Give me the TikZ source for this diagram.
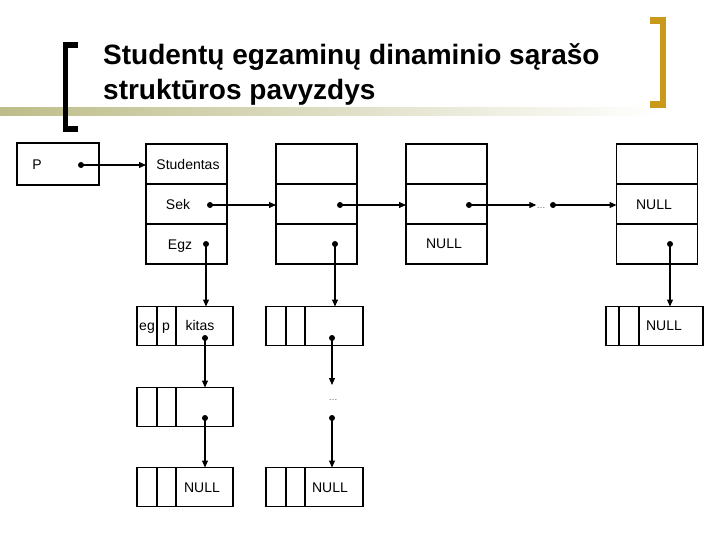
\documentclass[tikz,border=0pt]{standalone}
\usepackage{fontspec}
\setmainfont{Liberation Sans}
\usetikzlibrary{arrows.meta,positioning}
\definecolor{olivebar}{HTML}{BDBD8A}
\definecolor{gold}{HTML}{C99A1A}
\newcommand{\lblfont}{\fontsize{14}{16}\selectfont}
\tikzset{
  cell/.style={draw, line width=1.8pt, minimum width=81pt, minimum height=40pt,
               inner sep=0pt, outer sep=0pt},
  part/.style={draw, line width=1.8pt, minimum height=39pt, inner sep=0pt, outer sep=0pt},
  dot/.style={circle, fill, inner sep=0pt, minimum size=6pt},
  lbl/.style={font=\lblfont, inner sep=0pt, anchor=base},
  gaplbl/.style={font=\fontsize{9}{9}\selectfont, inner sep=0pt, text=black!70},
  ar/.style={-{Triangle[length=7pt,width=6pt]}, line width=1.1pt},
  ttl/.style={font=\fontsize{28}{34}\selectfont\bfseries, anchor=base west, inner sep=0pt}
}
\begin{document}
\begin{tikzpicture}[x=1pt,y=-1pt]
  \useasboundingbox (0,0) rectangle (720,540);

  % title bar and brackets
  \shade[left color=olivebar, right color=white] (0,108) rectangle (660,116);
  \fill (63,42) rectangle (68,132);
  \fill (63,42) rectangle (78,48);
  \fill (63,126) rectangle (78,132);
  \fill[gold] (660,17) rectangle (666,108);
  \fill[gold] (650,17) rectangle (666,24);
  \fill[gold] (650,101) rectangle (666,108);
  \node[ttl] (title1) at (103,65) {Studentų egzaminų dinaminio sąrašo};
  \node[ttl] (title2) at (103,100) {struktūros pavyzdys};

  % head pointer
  \node[cell, minimum width=82pt, minimum height=42pt] (p) at (58,164) {};
  \node[lbl] (plbl) at (37,170) {P};
  \node[dot] (pd) at (81,165) {};

  % student records
  \foreach \i/\x in {1/186.5, 2/316.5, 3/446.5, 4/657} {
    \node[cell] (n\i-top) at (\x,164) {};
    \node[cell] (n\i-mid) at (\x,204) {};
    \node[cell] (n\i-bot) at (\x,244) {};
  }
  \node[lbl] (stud) at (188,170) {Studentas};
  \node[lbl] (sek) at (178,210) {Sek};
  \node[lbl] (egz) at (180,249) {Egz};
  \node[dot] (d1b) at (210,205) {};
  \node[dot] (d1c) at (206,244) {};
  \node[dot] (d2b) at (340,205) {};
  \node[dot] (d2c) at (335,244) {};
  \node[dot] (d3b) at (469,205) {};
  \node[lbl] (null3) at (444,248) {NULL};
  \node[gaplbl] (gap) at (541,208) {\ldots};
  \node[dot] (gd) at (553,205) {};
  \node[lbl] (null4) at (654,210) {NULL};
  \node[dot] (d4c) at (670,244) {};

  \draw[ar] (pd.center) -- (pd.center -| n1-top.west);
  \draw[ar] (d1b.center) -- (d1b.center -| n2-mid.west);
  \draw[ar] (d2b.center) -- (d2b.center -| n3-mid.west);
  \draw[ar] (d3b.center) -- (d3b.center -| gap.west);
  \draw[ar] (gd.center) -- (gd.center -| n4-mid.west);

  % exam lists
  \foreach \n/\x/\y/\wa/\wb/\wc in {k1/137/326/20pt/19pt/57pt, k2/137/407/20pt/19pt/57pt,
      k3/137/487/20pt/19pt/57pt, m1/266/326/20pt/19pt/58pt, m3/266/487/20pt/19pt/58pt,
      q1/606/326/13pt/20pt/64pt} {
    \node[part, minimum width=\wa, anchor=west] (\n-a) at (\x,\y) {};
    \node[part, minimum width=\wb, right=0pt of \n-a] (\n-b) {};
    \node[part, minimum width=\wc, right=0pt of \n-b] (\n-c) {};
  }
  \node[lbl] (eg) at (147,330) {eg};
  \node[lbl] (pp) at (166,330) {p};
  \node[lbl] (kitas) at (200,330) {kitas};
  \node[lbl] (nullk) at (202,492) {NULL};
  \node[lbl] (nullm) at (330,492) {NULL};
  \node[lbl] (nullq) at (664,330) {NULL};
  \node[dot] (dk1) at (205,338) {};
  \node[dot] (dk2) at (205,418) {};
  \node[dot] (dm1) at (332,338) {};
  \node[gaplbl] (vgap) at (333,400) {\ldots};
  \coordinate (vend) at (332,385);
  \node[dot] (dm2) at (332,418) {};

  \draw[ar] (d1c.center) -- (d1c.center |- k1-c.north);
  \draw[ar] (dk1.center) -- (dk1.center |- k2-c.north);
  \draw[ar] (dk2.center) -- (dk2.center |- k3-c.north);
  \draw[ar] (d2c.center) -- (d2c.center |- m1-c.north);
  \draw[ar] (dm1.center) -- (vend);
  \draw[ar] (dm2.center) -- (dm2.center |- m3-c.north);
  \draw[ar] (d4c.center) -- (d4c.center |- q1-c.north);
\end{tikzpicture}
\end{document}
